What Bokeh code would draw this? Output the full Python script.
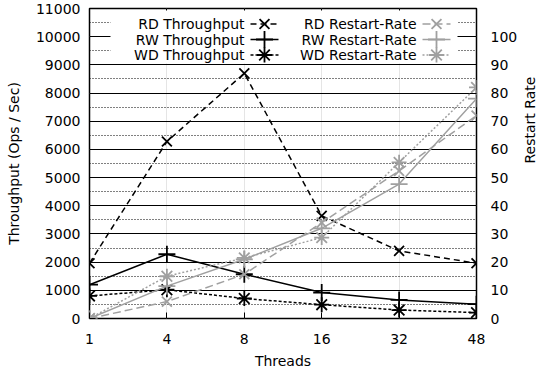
import math
from bokeh.plotting import figure
from bokeh.models import (Range1d, LinearAxis, FixedTicker, BoxAnnotation, Label, Grid)
from bokeh.embed import file_html
from bokeh.resources import INLINE

# ---- data ----
threads = ["1", "4", "8", "16", "32", "48"]
rd_throughput = [1960, 6280, 8700, 3640, 2400, 1960]
rw_throughput = [1200, 2280, 1570, 920, 660, 510]
wd_throughput = [800, 1020, 710, 490, 300, 210]
rd_restart = [0, 6, 15.7, 34, 52.4, 72]
rw_restart = [0, 11.5, 21, 32, 47.7, 78]
wd_restart = [0, 15, 21.5, 28.7, 55.4, 82]
left_ticks = list(range(0, 11001, 1000))
right_ticks = list(range(0, 101, 10))
series_names = ["RD Throughput", "RW Throughput", "WD Throughput",
                "RD Restart-Rate", "RW Restart-Rate", "WD Restart-Rate"]

FONT = "DejaVu Sans"
FS = "14px"
GRAY = "#a0a0a0"

# frame geometry (reference pixels)
FL, FR, FT, FB = 97, 484, 16, 326
Y_MAX = 11000
R_MAX = 110

p = figure(frame_width=FR - FL, frame_height=FB - FT,
           min_border_left=89, min_border_right=63, min_border_top=8, min_border_bottom=30,
           output_backend="svg", toolbar_location=None,
           x_range=Range1d(0, len(threads) - 1), y_range=Range1d(0, Y_MAX),
           x_axis_location=None, y_axis_location=None)
p.extra_y_ranges = {"rate": Range1d(0, R_MAX)}
p.background_fill_color = "white"
p.border_fill_color = "white"
p.outline_line_color = "black"
p.outline_line_width = 1.5


def style_axis(ax):
    ax.axis_line_color = None
    ax.major_tick_in = 6
    ax.major_tick_out = 0
    ax.minor_tick_in = 0
    ax.minor_tick_out = 0
    ax.major_tick_line_color = "black"
    ax.major_tick_line_width = 1
    ax.major_label_text_font = FONT
    ax.major_label_text_font_size = FS
    ax.major_label_text_color = "black"
    ax.axis_label_text_font = FONT
    ax.axis_label_text_font_size = FS
    ax.axis_label_text_font_style = "normal"
    ax.axis_label_text_color = "black"


xt = FixedTicker(ticks=list(range(len(threads))))
xaxis = LinearAxis(ticker=xt, axis_label="Threads",
                   major_label_overrides={i: t for i, t in enumerate(threads)})
style_axis(xaxis)
xaxis.major_label_standoff = 15
xaxis.axis_label_standoff = 6
p.add_layout(xaxis, "below")

xtop = LinearAxis(ticker=xt, major_label_overrides={i: "" for i in range(len(threads))})
style_axis(xtop)
xtop.major_label_text_font_size = "0px"
xtop.major_label_standoff = 0
p.add_layout(xtop, "above")

minor = [a + (b - a) / 2 for a, b in zip(left_ticks[:-1], left_ticks[1:])]
lt = FixedTicker(ticks=left_ticks, minor_ticks=minor)
yleft = LinearAxis(ticker=lt, axis_label="Throughput (Ops / Sec)")
style_axis(yleft)
yleft.major_label_standoff = 9
yleft.axis_label_standoff = 11
p.add_layout(yleft, "left")

yright = LinearAxis(y_range_name="rate", ticker=FixedTicker(ticks=right_ticks),
                    axis_label="Restart Rate")
style_axis(yright)
yright.major_label_standoff = 14
yright.axis_label_standoff = 10
try:
    yright.axis_label_orientation = math.pi / 2
except Exception:
    pass
p.add_layout(yright, "right")

grid = Grid(dimension=1, ticker=lt, grid_line_color="black", grid_line_width=1,
            minor_grid_line_color="black", minor_grid_line_width=1,
            minor_grid_line_dash="1 2")
p.add_layout(grid, "center")

x = list(range(len(threads)))
styles = [
    (rd_throughput, "default", "black", "6 4", "x", 14),
    (rw_throughput, "default", "black", "solid", "cross", 17),
    (wd_throughput, "default", "black", "3 2", "asterisk", 15),
    (rd_restart, "rate", GRAY, "8 4", "x", 14),
    (rw_restart, "rate", GRAY, "solid", "cross", 17),
    (wd_restart, "rate", GRAY, "2 2", "asterisk", 15),
]
for ys, rng, col, dash, mk, sz in styles:
    p.line(x, ys, y_range_name=rng, line_color=col, line_width=1.5, line_dash=dash)
    p.scatter(x, ys, y_range_name=rng, marker=mk, size=sz, line_color=col,
              line_width=1.8, fill_color=None)


# ---- legend (positions in reference pixels, converted to data) ----
def xd(px):
    return (px - FL) / (FR - FL) * (len(threads) - 1)


def yd(py):
    return (FB - py) / (FB - FT) * Y_MAX


p.add_layout(BoxAnnotation(left=xd(118), right=xd(465), top=yd(18), bottom=yd(71),
                           fill_color="white", fill_alpha=1, line_color=None))
rows = [31.5, 47, 62.5]
cols = [252, 424]
for i, (ys, rng, col, dash, mk, sz) in enumerate(styles):
    cx = cols[i // 3]
    ry = rows[i % 3]
    p.add_layout(Label(x=xd(cx), y=yd(ry), text=series_names[i], text_align="right",
                       text_baseline="middle", text_font=FONT, text_font_size=FS,
                       text_color="black"))
    lr = p.line([xd(cx + 6), xd(cx + 34)], [yd(ry), yd(ry)], line_color=col,
                line_width=1.5, line_dash=dash)
    lr.level = "overlay"
    sr = p.scatter([xd(cx + 20)], [yd(ry)], marker=mk, size=sz, line_color=col,
                   line_width=1.8, fill_color=None)
    sr.level = "overlay"

open("out.html", "w").write(file_html(p, INLINE))
